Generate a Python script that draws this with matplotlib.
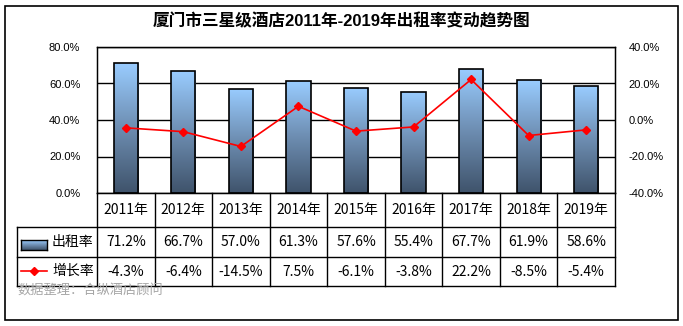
import numpy as np
import matplotlib
matplotlib.use('Agg')
import matplotlib.pyplot as plt
import matplotlib.transforms as mtransforms
from matplotlib.colors import LinearSegmentedColormap
from matplotlib.lines import Line2D
from matplotlib.patches import Rectangle

plt.rcParams['font.family'] = ['Liberation Sans', 'Noto Sans CJK SC', 'DejaVu Sans']

years = ['2011年', '2012年', '2013年', '2014年', '2015年', '2016年', '2017年', '2018年', '2019年']
occupancy = [71.2, 66.7, 57.0, 61.3, 57.6, 55.4, 67.7, 61.9, 58.6]
growth = [-4.3, -6.4, -14.5, 7.5, -6.1, -3.8, 22.2, -8.5, -5.4]
series_names = ['出租率', '增长率']
title = '厦门市三星级酒店2011年-2019年出租率变动趋势图'
source = '数据整理：合纵酒店顾问'

W, H = 683, 326
fig = plt.figure(figsize=(W / 100, H / 100), dpi=100)

def fx(px):
    return px / W

def fy(py):
    return 1 - py / H

# plot area in pixels
L, R, T, B = 97, 615, 47, 193
ax = fig.add_axes([fx(L), fy(B), fx(R - L), (B - T) / H])
x = np.arange(len(years))
width = 0.42

cmap = LinearSegmentedColormap.from_list('bar', ['#3f536b', '#6d8db1', '#99ccff'])
bars = ax.bar(x, occupancy, width, facecolor='none', edgecolor='black', linewidth=1.2, zorder=3)
grad = np.linspace(0, 1, 256).reshape(-1, 1)
for b in bars:
    bx, by = b.get_x(), b.get_y()
    im = ax.imshow(grad, cmap=cmap, origin='lower', aspect='auto',
                   extent=(bx, bx + b.get_width(), by, by + b.get_height()), zorder=2)
    im.set_clip_path(b)

ax.set_xlim(-0.5, len(years) - 0.5)
ax.set_ylim(0, 80)
ax.set_yticks([0, 20, 40, 60, 80])
ax.set_yticklabels(['%.1f%%' % v for v in [0, 20, 40, 60, 80]])
ax.set_xticks([])
ax.yaxis.grid(True, color='black', linewidth=1)
ax.set_axisbelow(True)
ax.tick_params(axis='y', length=0, pad=12, labelsize=8)
for s in ax.spines.values():
    s.set_linewidth(1)

ax2 = ax.twinx()
ax2.plot(x, growth, color='red', linewidth=1.2, marker='D', markersize=4.5, zorder=5)
ax2.set_ylim(-40, 40)
ax2.set_yticks([-40, -20, 0, 20, 40])
ax2.set_yticklabels(['%.1f%%' % v for v in [-40, -20, 0, 20, 40]])
ax2.tick_params(axis='y', length=0, pad=10, labelsize=8)
ax2.set_xlim(-0.5, len(years) - 0.5)

# data table below the chart
bt = mtransforms.blended_transform_factory(ax.transData, fig.transFigure)
left_col = -0.5 - (L - 17) / ((R - L) / len(years))
rows = [193, 227, 257, 286]
def hline(x0, x1, py):
    fig.add_artist(Line2D([x0, x1], [fy(py), fy(py)], color='black', lw=1, transform=bt))
def vline(xv, py0, py1):
    fig.add_artist(Line2D([xv, xv], [fy(py0), fy(py1)], color='black', lw=1, transform=bt))

for py in rows[1:]:
    hline(left_col, len(years) - 0.5, py)
for k in range(len(years) + 1):
    vline(k - 0.5, rows[0], rows[3])
vline(left_col, rows[1], rows[3])

for i, yr in enumerate(years):
    fig.text(i, fy((rows[0] + rows[1]) / 2), yr, transform=bt, ha='center', va='center',
             fontsize=10, family=['Noto Sans CJK SC'])
    fig.text(i, fy((rows[1] + rows[2]) / 2), '%.1f%%' % occupancy[i], transform=bt,
             ha='center', va='center', fontsize=10, family=['Noto Sans CJK SC'])
    fig.text(i, fy((rows[2] + rows[3]) / 2), '%.1f%%' % growth[i], transform=bt,
             ha='center', va='center', fontsize=10, family=['Noto Sans CJK SC'])

# legend keys in the table
key = fig.add_axes([fx(21), fy(250), fx(26), 10 / H])
key.imshow(grad, cmap=cmap, origin='lower', aspect='auto')
key.set_xticks([])
key.set_yticks([])
for s in key.spines.values():
    s.set_linewidth(1)
fig.text(fx(52), fy(242), series_names[0], ha='left', va='center', fontsize=10,
         family=['Noto Sans CJK SC'])
fig.add_artist(Line2D([fx(21), fx(47)], [fy(271), fy(271)], color='red', lw=1.2,
                      transform=fig.transFigure))
fig.add_artist(Line2D([fx(34)], [fy(271)], color='red', marker='D', markersize=4,
                      transform=fig.transFigure))
fig.text(fx(52), fy(271), series_names[1], ha='left', va='center', fontsize=10,
         family=['Noto Sans CJK SC'])

fig.text(fx(17), fy(290), source, ha='left', va='center', fontsize=9.5, color='#a6a6a6',
         family=['Noto Sans CJK SC'])

fig.text(0.5, fy(21), title, ha='center', va='center', fontsize=12, fontweight='bold')

fig.add_artist(Rectangle((fx(5), fy(320)), fx(673), 314 / H, facecolor='none',
                         edgecolor='black', lw=1.2, transform=fig.transFigure))

fig.savefig('out.png', dpi=100)
